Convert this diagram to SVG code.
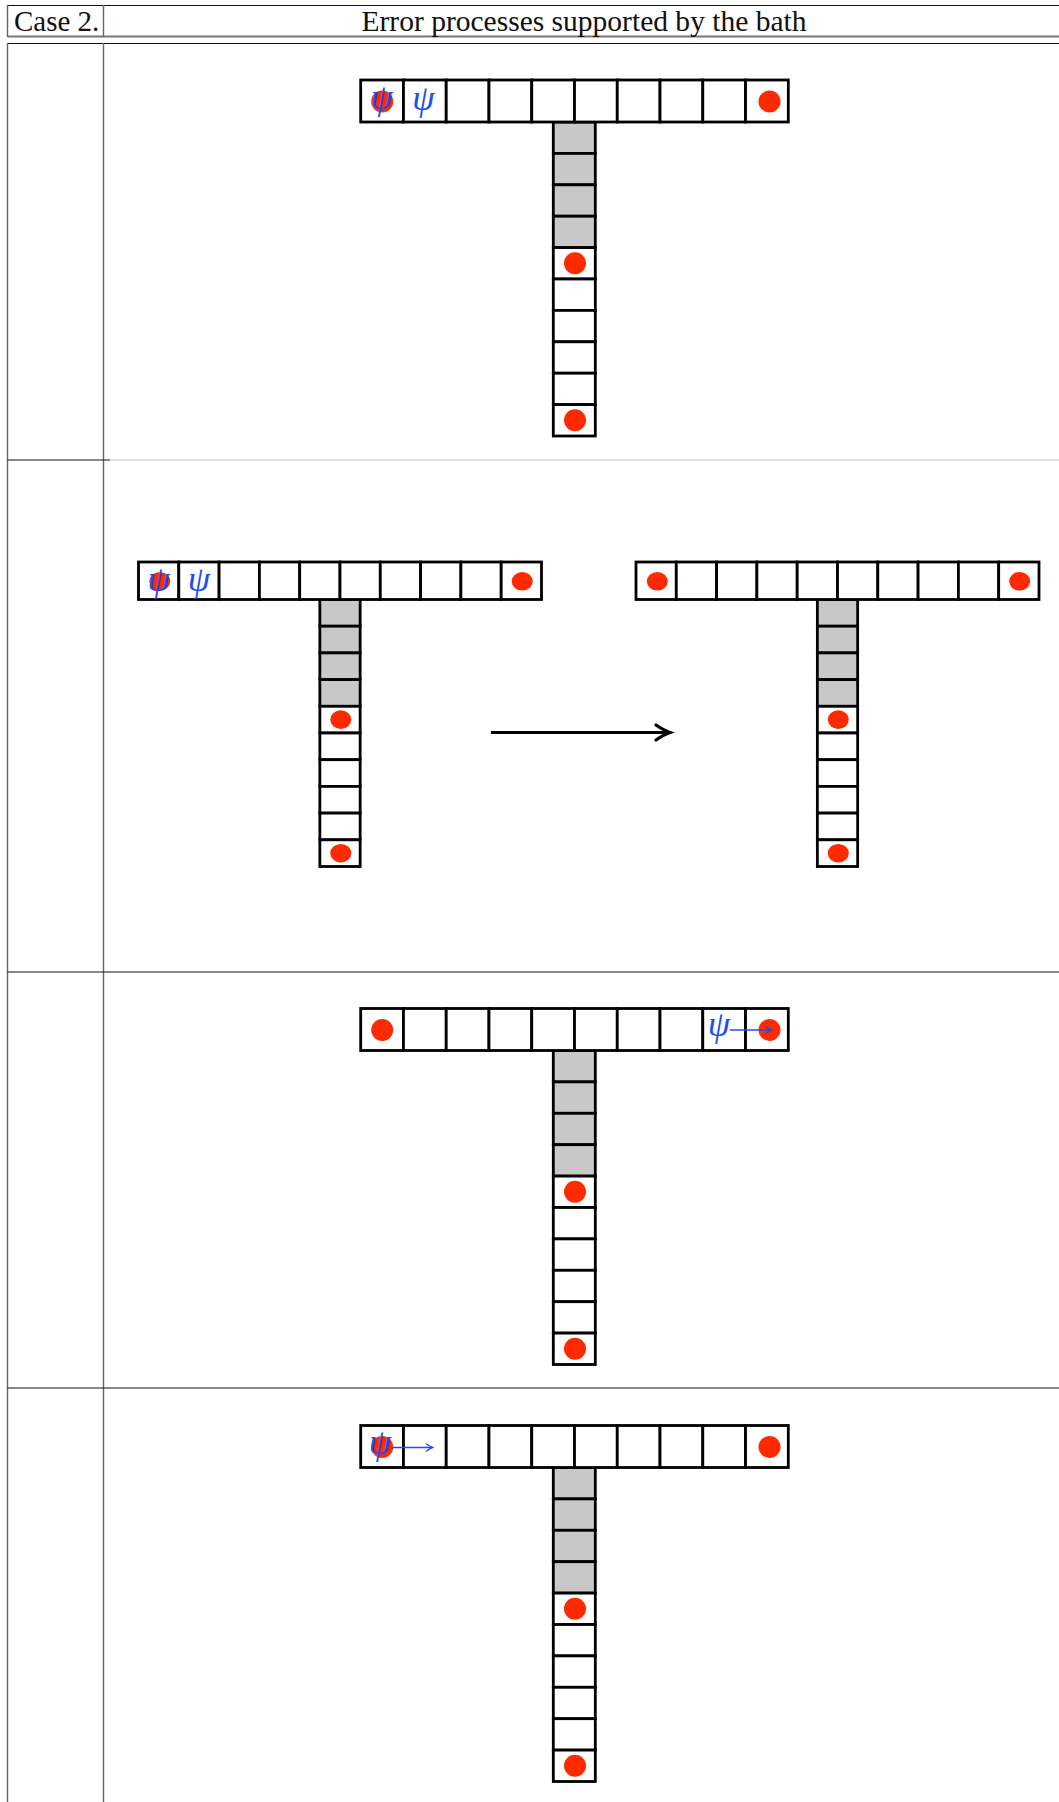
<svg xmlns="http://www.w3.org/2000/svg" width="1059" height="1802" viewBox="0 0 1059 1802">
<style>
.cell{fill:#fff;stroke:#000;stroke-width:2.8;stroke-linejoin:miter}
.gcell{fill:#c8c8c8;stroke:#000;stroke-width:2.8}
.dot{fill:#ff2a00}
.psi{font-family:"Liberation Serif","DejaVu Serif",serif;font-style:italic;font-size:36px;fill:#1e4ef0;text-anchor:middle}
.hdr{font-family:"Liberation Serif","Times New Roman",serif;font-size:29px;fill:#111}
.vl{stroke:#666;stroke-width:1.4}
.hl{stroke:#111;stroke-width:1.2}
.arrow{stroke:#000;stroke-width:3;fill:none}
.barrow{stroke:#1e4ef0;stroke-width:1.5;fill:none}
</style>
<defs>
<marker id="ahk" markerUnits="userSpaceOnUse" markerWidth="24" markerHeight="24" viewBox="-18 -12 24 24" refX="0" refY="0" orient="auto">
<path d="M-14,-7.5 Q-6,-2 0,0 Q-6,2 -14,7.5" fill="none" stroke="#000" stroke-width="3.2" stroke-linecap="round"/>
</marker>
<marker id="ahb" markerUnits="userSpaceOnUse" markerWidth="12" markerHeight="12" viewBox="-9 -6 12 12" refX="0" refY="0" orient="auto">
<path d="M-6,-3.5 Q-2.5,-1 0,0 Q-2.5,1 -6,3.5" fill="none" stroke="#1e4ef0" stroke-width="1.4" stroke-linecap="round"/>
</marker>
<g id="tBig">
<rect class="gcell" x="192.6" y="42" width="42" height="31.4"/>
<rect class="gcell" x="192.6" y="73.4" width="42" height="31.4"/>
<rect class="gcell" x="192.6" y="104.8" width="42" height="31.4"/>
<rect class="gcell" x="192.6" y="136.2" width="42" height="31.4"/>
<rect class="cell" x="192.6" y="167.6" width="42" height="31.4"/>
<rect class="cell" x="192.6" y="199" width="42" height="31.4"/>
<rect class="cell" x="192.6" y="230.4" width="42" height="31.4"/>
<rect class="cell" x="192.6" y="261.8" width="42" height="31.4"/>
<rect class="cell" x="192.6" y="293.2" width="42" height="31.4"/>
<rect class="cell" x="192.6" y="324.6" width="42" height="31.4"/>
<rect class="cell" x="0" y="0" width="42.76" height="42"/>
<rect class="cell" x="42.76" y="0" width="42.76" height="42"/>
<rect class="cell" x="85.52" y="0" width="42.76" height="42"/>
<rect class="cell" x="128.28" y="0" width="42.76" height="42"/>
<rect class="cell" x="171.04" y="0" width="42.76" height="42"/>
<rect class="cell" x="213.8" y="0" width="42.76" height="42"/>
<rect class="cell" x="256.56" y="0" width="42.76" height="42"/>
<rect class="cell" x="299.32" y="0" width="42.76" height="42"/>
<rect class="cell" x="342.08" y="0" width="42.76" height="42"/>
<rect class="cell" x="384.84" y="0" width="42.76" height="42"/>
<circle class="dot" cx="21.5" cy="21.5" r="11"/>
<circle class="dot" cx="408.8" cy="21.5" r="11"/>
<circle class="dot" cx="214.3" cy="183.3" r="11"/>
<circle class="dot" cx="214.3" cy="340.3" r="11"/>
</g>
<g id="tSmall">
<rect class="gcell" x="181.35" y="37.5" width="40.3" height="26.7"/>
<rect class="gcell" x="181.35" y="64.2" width="40.3" height="26.7"/>
<rect class="gcell" x="181.35" y="90.9" width="40.3" height="26.7"/>
<rect class="gcell" x="181.35" y="117.6" width="40.3" height="26.7"/>
<rect class="cell" x="181.35" y="144.3" width="40.3" height="26.7"/>
<rect class="cell" x="181.35" y="171" width="40.3" height="26.7"/>
<rect class="cell" x="181.35" y="197.7" width="40.3" height="26.7"/>
<rect class="cell" x="181.35" y="224.4" width="40.3" height="26.7"/>
<rect class="cell" x="181.35" y="251.1" width="40.3" height="26.7"/>
<rect class="cell" x="181.35" y="277.8" width="40.3" height="26.7"/>
<rect class="cell" x="0" y="0" width="40.3" height="37.5"/>
<rect class="cell" x="40.3" y="0" width="40.3" height="37.5"/>
<rect class="cell" x="80.6" y="0" width="40.3" height="37.5"/>
<rect class="cell" x="120.9" y="0" width="40.3" height="37.5"/>
<rect class="cell" x="161.2" y="0" width="40.3" height="37.5"/>
<rect class="cell" x="201.5" y="0" width="40.3" height="37.5"/>
<rect class="cell" x="241.8" y="0" width="40.3" height="37.5"/>
<rect class="cell" x="282.1" y="0" width="40.3" height="37.5"/>
<rect class="cell" x="322.4" y="0" width="40.3" height="37.5"/>
<rect class="cell" x="362.7" y="0" width="40.3" height="37.5"/>
<ellipse class="dot" cx="21.3" cy="19.3" rx="10.5" ry="9.3"/>
<ellipse class="dot" cx="383.7" cy="19.3" rx="10.5" ry="9.3"/>
<ellipse class="dot" cx="202.3" cy="157.6" rx="10.5" ry="9.3"/>
<ellipse class="dot" cx="202.3" cy="291.2" rx="10.5" ry="9.3"/>
</g>
</defs>
<rect x="0" y="0" width="1059" height="1802" fill="#fff"/>
<g id="table">
<line class="hl" x1="7.5" y1="5.5" x2="1059" y2="5.5"/>
<line x1="7.5" y1="36.5" x2="1059" y2="36.5" stroke="#777" stroke-width="2"/>
<line class="vl" x1="7.5" y1="5" x2="7.5" y2="37"/>
<line class="vl" x1="103.5" y1="5" x2="103.5" y2="37"/>
<line class="hl" x1="7.5" y1="43.5" x2="1059" y2="43.5"/>
<line class="vl" x1="7.5" y1="43" x2="7.5" y2="1802"/>
<line class="vl" x1="103.5" y1="43" x2="103.5" y2="1802"/>
<line class="hl" x1="7.5" y1="460" x2="110" y2="460"/>
<line x1="110" y1="460" x2="1059" y2="460" stroke="#c4c4c4" stroke-width="1.2"/>
<line class="hl" x1="7.5" y1="972" x2="1059" y2="972"/>
<line class="hl" x1="7.5" y1="1388" x2="1059" y2="1388"/>
<text class="hdr" x="14" y="30.5">Case 2.</text>
<text class="hdr" x="361.5" y="30.5" textLength="445" lengthAdjust="spacingAndGlyphs">Error processes supported by the bath</text>
</g>
<g id="row1">
<use href="#tBig" x="360.7" y="80"/>
<text class="psi" x="381.7" y="108.5">ψ</text>
<text class="psi" x="423.5" y="110">ψ</text>
</g>
<g id="row2-before">
<use href="#tSmall" x="138.5" y="562"/>
<text class="psi" x="158.6" y="590.5">ψ</text>
<text class="psi" x="199" y="591">ψ</text>
</g>
<g id="row2-after">
<use href="#tSmall" x="636" y="562"/>
</g>
<g id="row3">
<use href="#tBig" x="360.7" y="1008.5"/>
<text class="psi" x="719" y="1036">ψ</text>
</g>
<g id="row4">
<use href="#tBig" x="360.7" y="1425.5"/>
<text class="psi" x="380" y="1454">ψ</text>
</g>
<g id="connectors">
<line class="arrow" x1="491" y1="732.5" x2="670" y2="732.5" marker-end="url(#ahk)"/>
<line class="barrow" x1="730" y1="1030" x2="771.5" y2="1030" marker-end="url(#ahb)"/>
<line class="barrow" x1="391" y1="1447.5" x2="432.5" y2="1447.5" marker-end="url(#ahb)"/>
</g>
</svg>
